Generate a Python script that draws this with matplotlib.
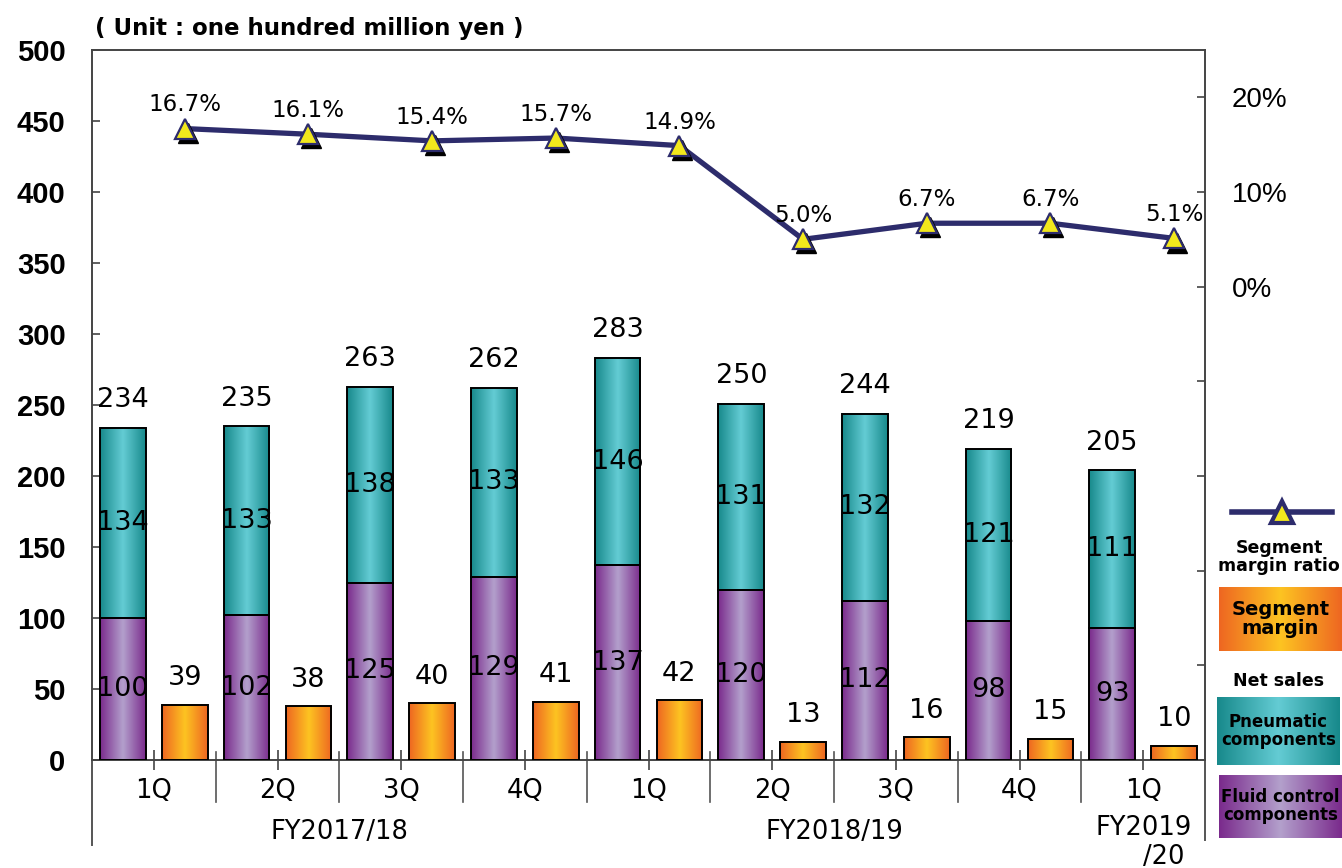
import numpy as np
import matplotlib
matplotlib.use("Agg")
import matplotlib.pyplot as plt
import matplotlib.transforms as mtransforms
from matplotlib.colors import LinearSegmentedColormap
from matplotlib.lines import Line2D

# data (unit: one hundred million yen)
quarters = ['1Q', '2Q', '3Q', '4Q', '1Q', '2Q', '3Q', '4Q', '1Q']
fluid = [100, 102, 125, 129, 137, 120, 112, 98, 93]
pneumatic = [134, 133, 138, 133, 146, 131, 132, 121, 111]
net_sales = [234, 235, 263, 262, 283, 250, 244, 219, 205]
margin = [39, 38, 40, 41, 42, 13, 16, 15, 10]
ratio = [16.7, 16.1, 15.4, 15.7, 14.9, 5.0, 6.7, 6.7, 5.1]
left_ticks = [0, 50, 100, 150, 200, 250, 300, 350, 400, 450, 500]
right_ticks = [-40, -30, -20, -10, 0, 10, 20]

NAVY = '#2d2c6c'
cm_purple = LinearSegmentedColormap.from_list('p', ['#7a2a8c', '#b3a0cc', '#7a2a8c'])
cm_teal = LinearSegmentedColormap.from_list('t', ['#17898b', '#64ccd4', '#17898b'])
cm_orange = LinearSegmentedColormap.from_list('o', ['#ee6622', '#fdc421', '#ee6622'])
grad = np.linspace(0, 1, 256).reshape(1, -1)


def gradient_fill(ax, bars, cmap):
    # paint a left-right gradient inside each bar patch
    for p in bars.patches:
        x0, y0, w, h = p.get_x(), p.get_y(), p.get_width(), p.get_height()
        ax.imshow(grad, extent=(x0, x0 + w, y0, y0 + h), aspect='auto',
                  cmap=cmap, interpolation='bicubic', zorder=2)


fig = plt.figure(figsize=(13.42, 8.68), dpi=100)
ax = fig.add_axes([92 / 1342, 108 / 868, 1113 / 1342, 710 / 868])

x = np.arange(len(quarters))
bw = 0.37
xs = x - 0.25
xm = x + 0.25

b1 = ax.bar(xs, fluid, bw, color='none', edgecolor='black', lw=1.4, zorder=3)
b2 = ax.bar(xs, pneumatic, bw, bottom=fluid, color='none', edgecolor='black', lw=1.4, zorder=3)
b3 = ax.bar(xm, margin, bw, color='none', edgecolor='black', lw=1.4, zorder=3)
gradient_fill(ax, b1, cm_purple)
gradient_fill(ax, b2, cm_teal)
gradient_fill(ax, b3, cm_orange)

lab = dict(fontsize=19.5, ha='center', va='center', color='black', zorder=5)
for i in range(len(quarters)):
    ax.text(xs[i], fluid[i] / 2, str(fluid[i]), **lab)
    ax.text(xs[i], fluid[i] + pneumatic[i] / 2, str(pneumatic[i]), **lab)
    ax.annotate(str(net_sales[i]), (xs[i], fluid[i] + pneumatic[i]), xytext=(0, 20),
                textcoords='offset points', **lab)
    ax.annotate(str(margin[i]), (xm[i], margin[i]), xytext=(0, 19),
                textcoords='offset points', **lab)

ax.set_xlim(-0.5, 8.5)
ax.set_ylim(0, 500)
ax.set_yticks(left_ticks)
ax.set_yticklabels([str(v) for v in left_ticks], fontsize=21, fontweight='bold',
                   family='Liberation Sans')
ax.tick_params(axis='y', direction='in', length=6, width=1.2, pad=19, colors='#444', labelcolor='black')
ax.set_xticks(x)
ax.set_xticklabels(quarters, fontsize=18.5)
ax.tick_params(axis='x', direction='inout', length=14, width=1.2, pad=6, colors='#444', labelcolor='black')
for s in ax.spines.values():
    s.set_color('#444')
    s.set_linewidth(1.4)

# group separators below the axis
tr = mtransforms.blended_transform_factory(ax.transData, ax.transAxes)
for i in range(len(quarters) - 1):
    ax.add_line(Line2D([i + 0.5, i + 0.5], [0.011, -0.059], transform=tr, color='#555',
                       lw=1.2, clip_on=False))
for xe, yb in [(-0.5, -0.12), (8.5, -0.113)]:
    ax.add_line(Line2D([xe, xe], [0, yb], transform=tr, color='#555', lw=1.4, clip_on=False))

ax.text(1.5, -0.101, 'FY2017/18', transform=tr, fontsize=18.5, ha='center', va='center')
ax.text(5.5, -0.101, 'FY2018/19', transform=tr, fontsize=18.5, ha='center', va='center')
ax.text(8.0, -0.096, 'FY2019', transform=tr, fontsize=18.5, ha='center', va='center')
ax.text(8.17, -0.137, '/20', transform=tr, fontsize=18.5, ha='center', va='center')

ax.text(0.003, 1.03, '( Unit : one hundred million yen )', transform=ax.transAxes,
        fontsize=16.5, fontweight='bold', ha='left', va='center')

# margin ratio on secondary axis
ax2 = ax.twinx()
ax2.set_ylim(-50, 25)
ax2.set_yticks(right_ticks)
ax2.set_yticklabels(['' if v < 0 else f'{v}%' for v in right_ticks], fontsize=20,
                    family='Liberation Sans')
ax2.tick_params(axis='y', direction='in', length=6, width=1.2, pad=19, colors='#444', labelcolor='black')
for s in ax2.spines.values():
    s.set_visible(False)

ax2.plot(xm, ratio, color=NAVY, lw=3.8, zorder=3)
shadow = mtransforms.offset_copy(ax2.transData, fig=fig, x=2, y=-3, units='points')
ax2.plot(xm, ratio, ls='none', marker='^', ms=15, color='black', transform=shadow, zorder=4)
ax2.plot(xm, ratio, ls='none', marker='^', ms=14, mfc='#f2e81c', mec=NAVY, mew=1.6, zorder=5)
for i in range(len(quarters)):
    ax2.annotate(f'{ratio[i]:.1f}%', (xm[i], ratio[i]), xytext=(0, 17), textcoords='offset points',
                 fontsize=16.5, ha='center', va='center')

# legend on the right
W, H = 1342, 868
fig.add_artist(Line2D([1232 / W, 1332 / W], [1 - 512 / H] * 2, color=NAVY, lw=4))
fig.add_artist(Line2D([1282 / W], [1 - 512 / H], marker='^', ms=16, mfc='#f2e81c', mec=NAVY,
                      mew=3, ls='none'))
fig.text(1279 / W, 1 - 557 / H, 'Segment\nmargin ratio', fontsize=12.5, fontweight='bold',
         ha='center', va='center', linespacing=1.0)
fig.text(1279 / W, 1 - 681 / H, 'Net sales', fontsize=12.5, fontweight='bold', ha='center', va='center')

boxes = [((1219, 587, 123, 64), cm_orange, 'Segment\nmargin', 14),
         ((1217, 697, 123, 68), cm_teal, 'Pneumatic\ncomponents', 12),
         ((1219, 775, 123, 63), cm_purple, 'Fluid control\ncomponents', 12)]
for (bx, by, bw_, bh), cmap, txt, fs in boxes:
    lax = fig.add_axes([bx / W, 1 - (by + bh) / H, bw_ / W, bh / H])
    lax.imshow(grad, aspect='auto', cmap=cmap, extent=(0, 1, 0, 1), interpolation='bicubic')
    lax.text(0.5, 0.5, txt, fontsize=fs, fontweight='bold', ha='center', va='center',
             linespacing=1.0)
    lax.set_axis_off()

fig.savefig('out.png', dpi=100)
